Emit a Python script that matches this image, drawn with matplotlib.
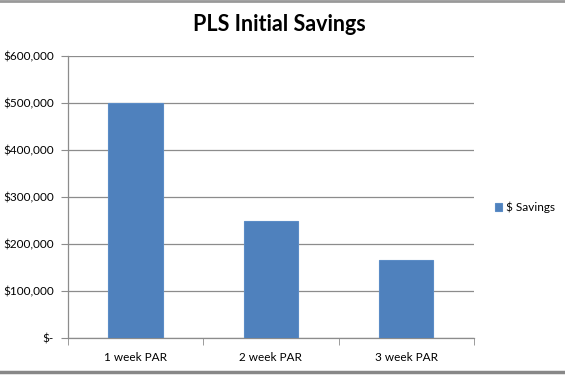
import matplotlib.pyplot as plt
from matplotlib.lines import Line2D
from matplotlib.ticker import FuncFormatter

categories = ['1 week PAR', '2 week PAR', '3 week PAR']
savings = [500000, 250000, 166667]
series_name = '$ Savings'
y_ticks = [0, 100000, 200000, 300000, 400000, 500000, 600000]

plt.rcParams['font.family'] = ['Lato', 'DejaVu Sans']

fig = plt.figure(figsize=(5.65, 3.77), dpi=100)
ax = fig.add_axes([0.120, 0.1034, 0.719, 0.7481])

x = range(len(categories))
ax.bar(x, savings, width=0.4, color='#4F81BD', edgecolor='#5b8cc6',
       linewidth=0.8, label=series_name, zorder=3)

ax.set_xlim(-0.5, len(categories) - 0.5)
ax.set_ylim(0, 600000)
ax.set_yticks(y_ticks)


def money(v, pos):
    if v == 0:
        return '$-'
    return '${:,.0f}'.format(v)


ax.yaxis.set_major_formatter(FuncFormatter(money))
ax.yaxis.grid(True, color='#8c8c8c', linewidth=0.9, zorder=0)

ax.set_xticks(list(x))
ax.set_xticklabels(categories)
ax.set_xticks([i - 0.5 for i in range(len(categories) + 1)], minor=True)
ax.tick_params(axis='x', which='major', length=0, pad=10, labelsize=8.5)
ax.tick_params(axis='x', which='minor', length=5, color='#8c8c8c', direction='out')
ax.tick_params(axis='y', length=5, color='#8c8c8c', labelsize=8.5, pad=5)

for side in ['top', 'right']:
    ax.spines[side].set_visible(False)
for side in ['left', 'bottom']:
    ax.spines[side].set_color('#8c8c8c')
    ax.spines[side].set_linewidth(0.9)

fig.text(0.495, 0.935, 'PLS Initial Savings', ha='center', va='center',
         fontsize=15.5, fontweight='bold')

fig.legend(loc='center left', bbox_to_anchor=(0.858, 0.45), frameon=False,
           fontsize=8.5, handlelength=0.6, handleheight=0.6, handletextpad=0.3)

# frame of the screenshot
fig.add_artist(Line2D([0, 1], [0.997, 0.997], color='#999999', linewidth=2))
fig.add_artist(Line2D([0, 1], [0.013, 0.013], color='#888888', linewidth=2.5))

fig.savefig('out.png', dpi=100)
